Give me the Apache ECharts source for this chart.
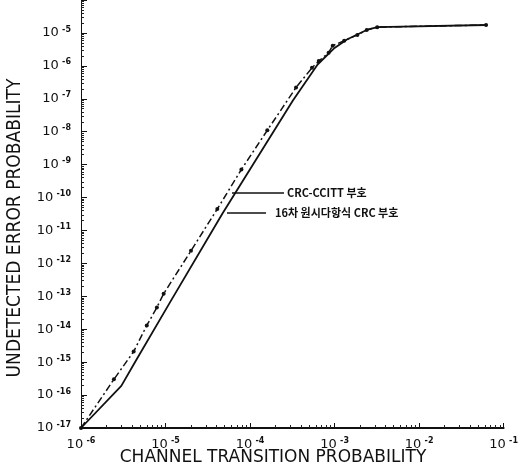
<!DOCTYPE html>
<html>
<head>
<meta charset="utf-8">
<script src="https://cdn.jsdelivr.net/npm/echarts@6/dist/echarts.min.js"></script>
<style>
  html, body { margin: 0; padding: 0; background: #fff; }
  #chart { width: 521px; height: 470px; }
</style>
</head>
<body>
<div id="chart"></div>
<script>
// channel transition probability vs undetected error probability
var ccittP  = [1e-6, 2.45e-6, 4.2e-6, 6.0e-6, 7.9e-6, 9.5e-6, 2.0e-5, 4.1e-5, 7.9e-5, 1.6e-4, 3.5e-4, 5.4e-4, 6.5e-4, 8.5e-4, 9.5e-4, 1.3e-3, 1.86e-3, 2.4e-3, 3.2e-3, 6.2e-2];
var ccittPe = [1e-17, 3.0e-16, 2.1e-15, 1.3e-14, 4.6e-14, 1.2e-13, 2.4e-12, 4.5e-11, 7.1e-10, 1.1e-8, 2.2e-7, 8.7e-7, 1.4e-6, 2.5e-6, 4.1e-6, 5.8e-6, 8.7e-6, 1.23e-5, 1.5e-5, 1.74e-5];

var primP  = [1e-6, 3.0e-6, 4.4e-6, 1.12e-5, 4.7e-5, 3.2e-4, 6.3e-4, 1.0e-3, 1.4e-3, 2.4e-3, 3.2e-3, 6.2e-2];
var primPe = [1e-17, 1.9e-16, 1.05e-15, 6.3e-14, 3.2e-11, 8.7e-8, 1.1e-6, 3.5e-6, 6.3e-6, 1.23e-5, 1.5e-5, 1.74e-5];

var labelCcitt = 'CRC-CCITT 부호';
var labelPrim  = '16차 원시다항식 CRC 부호';
var xTitle = 'CHANNEL TRANSITION PROBABILITY';
var yTitle = 'UNDETECTED ERROR PROBABILITY';

function pairs(xs, ys) {
  var out = [];
  for (var i = 0; i < xs.length; i++) {
    out.push([xs[i], ys[i]]);
  }
  return out;
}

// 10 ^-n style labels
function powLabel(value) {
  var e = Math.round(Math.log10(value));
  return '{b|10} {s|' + e + '}';
}

var labelRich = {
  b: { fontSize: 13, fontFamily: 'DejaVu Sans', color: '#111' },
  s: { fontSize: 8, fontWeight: 'bold', fontFamily: 'DejaVu Sans', color: '#111', verticalAlign: 'top', padding: [0, 0, 7, 0] }
};

var myChart = echarts.init(document.getElementById('chart'));
var option = {
  animation: false,
  backgroundColor: '#fff',
  grid: { left: 81, right: 3, top: -3, bottom: 42 },
  xAxis: {
    type: 'log',
    logBase: 10,
    min: 1e-6,
    max: 1e-1,
    interval: 1,
    axisLine: { show: true, lineStyle: { color: '#111', width: 2 } },
    axisTick: { show: true, inside: true, length: 5, lineStyle: { color: '#111' } },
    minorTick: { show: true, splitNumber: 9, length: 3, lineStyle: { color: '#222' } },
    splitLine: { show: false },
    axisLabel: { margin: 9, formatter: powLabel, rich: labelRich }
  },
  yAxis: {
    type: 'log',
    logBase: 10,
    min: 1e-17,
    max: 1e-4,
    interval: 1,
    axisLine: { show: true, lineStyle: { color: '#111', width: 1 } },
    axisTick: { show: true, inside: true, length: 6, lineStyle: { color: '#111' } },
    minorTick: { show: true, splitNumber: 9, length: 3, lineStyle: { color: '#222' } },
    splitLine: { show: false },
    axisLabel: {
      margin: 10,
      formatter: function (v) {
        if (v > 5e-5) return '';
        return powLabel(v);
      },
      rich: labelRich
    }
  },
  series: [
    {
      name: labelCcitt,
      type: 'line',
      data: pairs(ccittP, ccittPe),
      symbol: 'circle',
      symbolSize: 4,
      itemStyle: { color: '#111' },
      lineStyle: { color: '#111', width: 1.5, type: [7, 3, 2, 3] },
      z: 3
    },
    {
      name: labelPrim,
      type: 'line',
      data: pairs(primP, primPe),
      symbol: 'none',
      lineStyle: { color: '#111', width: 1.8 },
      z: 2
    }
  ],
  graphic: [
    {
      type: 'text', x: 15, y: 228, rotation: Math.PI / 2,
      style: { text: yTitle, fontSize: 19, fontFamily: 'DejaVu Sans Condensed', fill: '#111', align: 'center', verticalAlign: 'middle' }
    },
    {
      type: 'text', x: 273, y: 458,
      style: { text: xTitle, fontSize: 17, fontFamily: 'DejaVu Sans', fill: '#111', align: 'center', verticalAlign: 'middle' }
    },
    { type: 'line', shape: { x1: 232, y1: 193, x2: 284, y2: 193 }, style: { stroke: '#111', lineWidth: 1.5 } },
    { type: 'line', shape: { x1: 227, y1: 213, x2: 266, y2: 213 }, style: { stroke: '#111', lineWidth: 1.5 } },
    {
      type: 'text', x: 287, y: 193,
      style: { text: labelCcitt, fontSize: 11, fontWeight: 'bold', fontFamily: 'Noto Sans CJK KR', fill: '#111', verticalAlign: 'middle' }
    },
    {
      type: 'text', x: 275, y: 213,
      style: { text: labelPrim, fontSize: 11, fontWeight: 'bold', fontFamily: 'Noto Sans CJK KR', fill: '#111', verticalAlign: 'middle' }
    }
  ]
};
myChart.setOption(option);
</script>
</body>
</html>
